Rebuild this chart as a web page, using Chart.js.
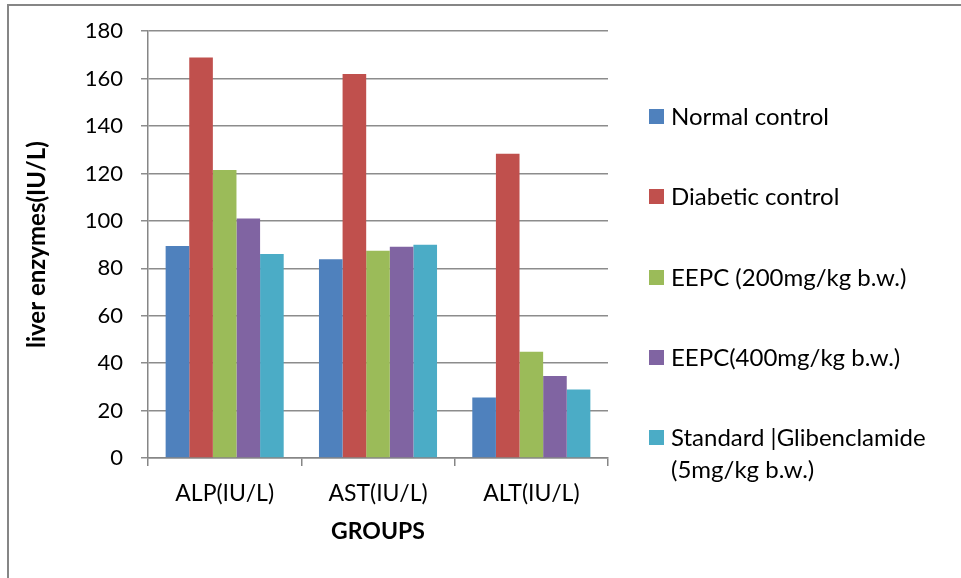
<!DOCTYPE html>
<html>
<head>
<meta charset="utf-8">
<script src="https://cdn.jsdelivr.net/npm/chart.js@4.4.1/dist/chart.umd.min.js"></script>
<style>
  html, body { margin: 0; padding: 0; background: #fff; }
  #wrap { position: relative; width: 961px; height: 578px; overflow: hidden; }
  #frame { position: absolute; left: 7px; top: 4px; width: 1000px; height: 600px;
           border-left: 2px solid #868686; border-top: 2px solid #868686; }
  #graph { position: absolute; left: 0; top: 0; }
  #legende { position: absolute; left: 649px; top: 0; font-family: Lato, "Open Sans", sans-serif;
             font-size: 24px; color: #000; }
  .item { position: absolute; left: 0; white-space: nowrap; line-height: 32px; }
  .item span.carre { position: absolute; left: 0; top: 9px; width: 15px; height: 15px; }
  .item span.txt { position: absolute; left: 22px; top: 0; }
</style>
</head>
<body>
<div id="wrap">
  <div id="frame"></div>
  <canvas id="graph" width="961" height="578"></canvas>
  <div id="legende"></div>
</div>
<script>
var categories = ["ALP(IU/L)", "AST(IU/L)", "ALT(IU/L)"];
var groupes = ["Normal control", "Diabetic control", "EEPC (200mg/kg b.w.)", "EEPC(400mg/kg b.w.)", "Standard |Glibenclamide (5mg/kg b.w.)"];
var normal = [89.4, 83.8, 25.5];
var diabetique = [168.9, 162, 128.3];
var eepc200 = [121.5, 87.4, 44.8];
var eepc400 = [101, 89.1, 34.6];
var standard = [86, 89.9, 28.9];
var couleurs = ["#4f81bd", "#c0504d", "#9bbb59", "#8064a2", "#4bacc6"];
var graduations = [0, 20, 40, 60, 80, 100, 120, 140, 160, 180];

var series = [normal, diabetique, eepc200, eepc400, standard];
var police = 'Lato, "Open Sans", sans-serif';

var datasets = series.map(function(valeurs, i) {
    return {
        label: groupes[i],
        data: valeurs,
        backgroundColor: couleurs[i],
        borderWidth: 0,
        barPercentage: 1,
        categoryPercentage: 0.77
    };
});

var ctx = document.getElementById("graph").getContext("2d");
var graph = new Chart(ctx, {
    type: "bar",
    data: { labels: categories, datasets: datasets },
    options: {
        responsive: false,
        animation: false,
        layout: { padding: { left: 23, right: 353, top: 31, bottom: 20 } },
        plugins: {
            legend: { display: false },
            tooltip: { enabled: false }
        },
        scales: {
            x: {
                grid: { drawOnChartArea: false, drawTicks: true, tickLength: 8, color: "#868686", lineWidth: 1.5, offset: true },
                border: { color: "#868686", width: 1.5 },
                ticks: { color: "#000", font: { family: police, size: 23 }, padding: 14 },
                title: { display: true, text: "GROUPS", color: "#000", font: { family: police, size: 23, weight: "bold" }, padding: { top: 6, bottom: 13 } },
                afterFit: function(axe) { axe.height = 100; }
            },
            y: {
                min: 0,
                max: 180,
                afterBuildTicks: function(axe) {
                    axe.ticks = graduations.map(function(v) { return { value: v }; });
                },
                grid: { color: "#8c8c8c", lineWidth: 1.5, drawTicks: true, tickLength: 7 },
                border: { color: "#868686", width: 1.5 },
                ticks: { color: "#000", font: { family: police, size: 22 }, padding: 18 },
                title: { display: true, text: "liver enzymes(IU/L)", color: "#000", font: { family: police, size: 24, weight: "bold" }, padding: { top: 0, bottom: 4 } },
                afterFit: function(axe) { axe.width = 125; }
            }
        }
    }
});

// légende à droite, construite depuis les séries
var legende = document.getElementById("legende");
var positions = [100, 180, 261, 341, 421];
groupes.forEach(function(nom, i) {
    var item = document.createElement("div");
    item.className = "item";
    item.style.top = positions[i] + "px";
    var carre = document.createElement("span");
    carre.className = "carre";
    carre.style.background = couleurs[i];
    var txt = document.createElement("span");
    txt.className = "txt";
    if (i == 4) {
        txt.innerHTML = "Standard |Glibenclamide<br>(5mg/kg b.w.)";
    } else {
        txt.textContent = nom;
    }
    item.appendChild(carre);
    item.appendChild(txt);
    legende.appendChild(item);
});
</script>
</body>
</html>
